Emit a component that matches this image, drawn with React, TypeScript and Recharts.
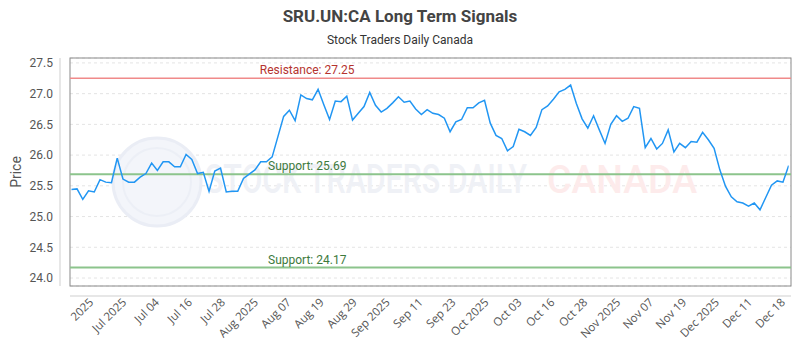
import React from 'react';
import * as R from 'recharts';

const Rx = R as any;
const { LineChart, Line, XAxis, YAxis, CartesianGrid, ReferenceLine } = Rx;

const TITLE = 'SRU.UN:CA Long Term Signals';
const SUBTITLE = 'Stock Traders Daily Canada';

const PRICES = [
  25.44, 25.45, 25.28, 25.42, 25.4, 25.6, 25.56, 25.55, 25.95, 25.61,
  25.56, 25.56, 25.64, 25.7, 25.87, 25.75, 25.89, 25.89, 25.81, 25.81,
  26.01, 25.93, 25.7, 25.72, 25.41, 25.74, 25.79, 25.4, 25.41, 25.41,
  25.62, 25.69, 25.76, 25.89, 25.89, 25.97, 26.3, 26.63, 26.73, 26.56,
  26.98, 26.92, 26.9, 27.07, 26.82, 26.58, 26.88, 26.87, 26.96, 26.57,
  26.68, 26.79, 27.02, 26.81, 26.7, 26.76, 26.85, 26.95, 26.86, 26.88,
  26.75, 26.66, 26.74, 26.68, 26.66, 26.6, 26.38, 26.54, 26.58, 26.77,
  26.77, 26.85, 26.89, 26.52, 26.32, 26.27, 26.07, 26.14, 26.42, 26.38,
  26.32, 26.45, 26.74, 26.8, 26.91, 27.03, 27.07, 27.14, 26.84, 26.59,
  26.44, 26.64, 26.41, 26.19, 26.5, 26.64, 26.55, 26.6, 26.79, 26.76,
  26.12, 26.27, 26.1, 26.19, 26.41, 26.05, 26.19, 26.12, 26.22, 26.21,
  26.37, 26.25, 26.11, 25.76, 25.49, 25.32, 25.24, 25.22, 25.17, 25.22,
  25.11, 25.31, 25.51, 25.58, 25.56, 25.83,
];

const TICK_LABELS = [
  '2025', 'Jul 2025', 'Jul 04', 'Jul 16', 'Jul 28', 'Aug 2025', 'Aug 07', 'Aug 19',
  'Aug 29', 'Sep 2025', 'Sep 11', 'Sep 23', 'Oct 2025', 'Oct 03', 'Oct 16', 'Oct 28',
  'Nov 2025', 'Nov 07', 'Nov 19', 'Dec 2025', 'Dec 11', 'Dec 18',
];

const Y_TICKS = [24, 24.5, 25, 25.5, 26, 26.5, 27, 27.5];
const RESISTANCES = [27.25];
const SUPPORTS = [25.69, 24.17];

const data = PRICES.map((price, i) => ({ i, price }));
const TICK_START = 3.8;
const TICK_STEP = 5.74;
const xTicks = TICK_LABELS.map((_, k) => +(TICK_START + k * TICK_STEP).toFixed(3));

const FONT = 'Roboto, "DejaVu Sans", sans-serif';

function usePlot() {
  if (Rx.usePlotArea) return Rx.usePlotArea();
  if (Rx.useOffset) {
    const o = Rx.useOffset();
    const w = Rx.useChartWidth();
    const h = Rx.useChartHeight();
    if (!o || !w || !h) return undefined;
    return { x: o.left, y: o.top, width: w - o.left - o.right, height: h - o.top - o.bottom };
  }
  return undefined;
}

function Decorations() {
  const area = usePlot();
  if (!area) return null;
  const { x, y, width, height } = area;
  return (
    <g>
      <g>
        <circle cx={x + 87} cy={y + 124} r={44} fill="#f3f5fa" stroke="#eaedf5" strokeWidth={3} />
        <circle cx={x + 87} cy={y + 124} r={34} fill="none" stroke="#eceff6" strokeWidth={2} />
        <text x={x + 135} y={y + 135} fontSize={40} fontWeight={500} fill="#eff1f6"
          fontFamily={FONT} textLength={322} lengthAdjust="spacingAndGlyphs">STOCK TRADERS DAILY</text>
        <text x={x + 477} y={y + 135} fontSize={38} fontWeight={500} fill="#fdebeb"
          fontFamily={FONT} textLength={150} lengthAdjust="spacingAndGlyphs">CANADA</text>
      </g>
      <rect x={x} y={y} width={width} height={height} fill="none" stroke="#8a8a8a" strokeWidth={1} />
      <line x1={x - 10} y1={y} x2={x - 10} y2={y + height} stroke="#cfcfcf" strokeWidth={1} />
      <line x1={x} y1={y + height + 10} x2={x + width} y2={y + height + 10} stroke="#cfcfcf" strokeWidth={1} />
      <text transform={`translate(${x - 54}, ${y + height / 2}) rotate(-90)`} textAnchor="middle"
        dominantBaseline="central" fontSize={14} fill="#555" fontFamily={FONT}>Price</text>
    </g>
  );
}

function XTick(props: any) {
  const { x, y, index } = props;
  const ay = y + 17;
  return (
    <text x={x + 1} y={ay} transform={`rotate(-45 ${x + 1} ${ay})`} textAnchor="end" fontSize={11.5}
      fill="#555" fontFamily='"Open Sans", sans-serif'>{TICK_LABELS[index]}</text>
  );
}

function LineLabel(props: any) {
  const { viewBox, text, color } = props;
  if (!viewBox) return null;
  return (
    <text x={viewBox.x + viewBox.width * 0.329} y={viewBox.y - 4} textAnchor="middle" fontSize={12}
      fill={color} fontFamily={FONT}>{text}</text>
  );
}

export default function App() {
  return (
    <div style={{ position: 'absolute', left: 0, top: 0, width: 800, height: 350, background: '#fff', fontFamily: FONT }}>
      <div style={{ position: 'absolute', top: 5, left: 0, width: 800, textAlign: 'center', fontSize: 17, fontWeight: 700, color: '#444', lineHeight: '22px' }}>{TITLE}</div>
      <div style={{ position: 'absolute', top: 32, left: 0, width: 800, textAlign: 'center', fontSize: 12, color: '#333', lineHeight: '16px' }}>{SUBTITLE}</div>
      <div style={{ position: 'absolute', left: 0, top: 0 }}>
        <LineChart width={800} height={350} data={data} margin={{ top: 58, right: 9, bottom: 0, left: 0 }}>
          <Decorations />
          <CartesianGrid vertical={false} stroke="#e4e4e4" strokeDasharray="3 3" />
          <XAxis type="number" dataKey="i" domain={[0, 125]} ticks={xTicks} interval={0} height={64}
            padding={{ left: 1.3, right: 2.3 }} axisLine={false} tickLine={false} tickSize={0} tickMargin={0}
            tick={<XTick />} allowDataOverflow />
          <YAxis type="number" domain={[23.87, 27.58]} ticks={Y_TICKS} width={70} axisLine={false} tickLine={false}
            tickSize={0} tickMargin={17} tick={{ fontSize: 12, fill: '#555', fontFamily: FONT }}
            tickFormatter={(v: number) => v.toFixed(1)} allowDataOverflow />
          {RESISTANCES.map((v) => (
            <ReferenceLine key={`r${v}`} y={v} stroke="#f08a8a" strokeWidth={1.5}
              label={<LineLabel text={`Resistance: ${v.toFixed(2)}`} color="#b5332e" />} />
          ))}
          {SUPPORTS.map((v) => (
            <ReferenceLine key={`s${v}`} y={v} stroke="#8cc48c" strokeWidth={2}
              label={<LineLabel text={`Support: ${v.toFixed(2)}`} color="#3d7a3d" />} />
          ))}
          <Line type="linear" dataKey="price" stroke="#2196f3" strokeWidth={1.5} dot={false} isAnimationActive={false} />
        </LineChart>
      </div>
    </div>
  );
}
